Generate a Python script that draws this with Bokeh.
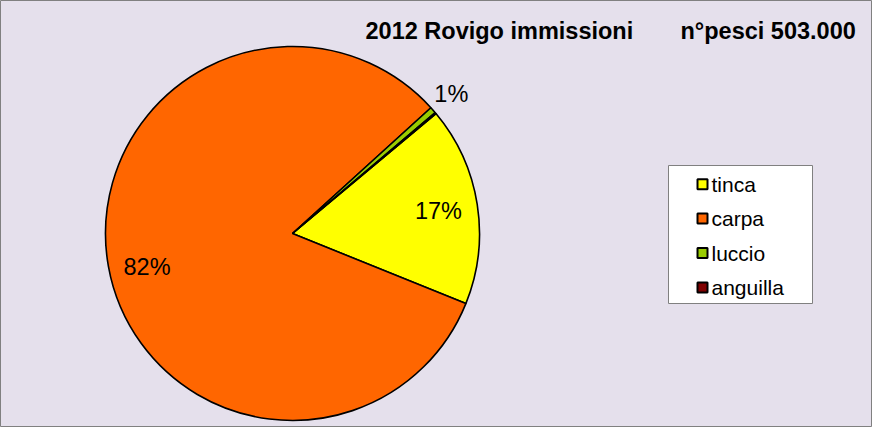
import numpy as np
from bokeh.plotting import figure
from bokeh.models import Range1d, ColumnDataSource
from bokeh.core.properties import value
from bokeh.embed import file_html
from bokeh.resources import INLINE

# ---- data ----
species = ["tinca", "carpa", "luccio", "anguilla"]
fish_counts = [86500, 413200, 2800, 500]
colors = ["#FFFF00", "#FF6600", "#99CC00", "#800000"]
title_left = "2012 Rovigo immissioni"
title_right = "n°pesci 503.000"

# ---- layout constants ----
W, H = 872, 427
CX, CY, R = 292, 194, 187
START_DEG = 39.9
FONT = value("Liberation Sans")

p = figure(width=W, height=H, x_range=Range1d(0, W), y_range=Range1d(0, H),
           output_backend="svg", toolbar_location=None, min_border=0,
           x_axis_location=None, y_axis_location=None)
p.grid.visible = False
p.background_fill_color = "#E5E0EC"
p.border_fill_color = "#E5E0EC"
p.outline_line_color = "#808080"
p.outline_line_width = 1

vals = np.array(fish_counts, dtype=float)
frac = vals / vals.sum()
cum = np.cumsum(frac) * 2 * np.pi
start0 = np.radians(START_DEG)
starts = start0 - np.concatenate([[0], cum[:-1]])
ends = start0 - cum
mids = (starts + ends) / 2
pcts = np.round(frac * 100).astype(int)

src = ColumnDataSource(dict(species=species, start=starts, end=ends, color=colors))
p.wedge(x=CX, y=CY, radius=R, start_angle="start", end_angle="end", direction="clock",
        fill_color="color", line_color="black", line_width=1.6, source=src)

# percentage labels
lx, ly, lt = [], [], []
for m, pc in zip(mids, pcts):
    if pc < 1:
        continue
    if pc < 5:
        rr, dy = R * 1.13, 0
    else:
        rr, dy = R * 0.79, (-8 if pc > 50 else 0)
    lx.append(CX + rr * np.cos(m))
    ly.append(CY + rr * np.sin(m) + dy)
    lt.append(f"{pc}%")
p.text(x=lx, y=ly, text=lt, text_align="center", text_baseline="middle",
       text_font=FONT, text_font_size="23.5px", text_color="black")

# title
p.text(x=[365], y=[397], text=[title_left], text_align="left", text_baseline="middle",
       text_font=FONT, text_font_size="23.5px", text_font_style="bold", text_color="black")
p.text(x=[680], y=[397], text=[title_right], text_align="left", text_baseline="middle",
       text_font=FONT, text_font_size="23.5px", text_font_style="bold", text_color="black")

# legend (manual, Excel style)
p.quad(left=[668], right=[812], top=[262], bottom=[124], fill_color="white",
       line_color="#808080", line_width=1)
ly0 = 435 - 191.7
step = 34.4
leg_y = [ly0 - i * step for i in range(len(species))]
p.scatter(x=[702] * len(species), y=leg_y, marker="square", size=10,
          fill_color=colors, line_color="black", line_width=2)
p.text(x=[711] * len(species), y=leg_y, text=species, text_align="left",
       text_baseline="middle", text_font=FONT, text_font_size="21px", text_color="black")

open("out.html", "w").write(file_html(p, INLINE))
